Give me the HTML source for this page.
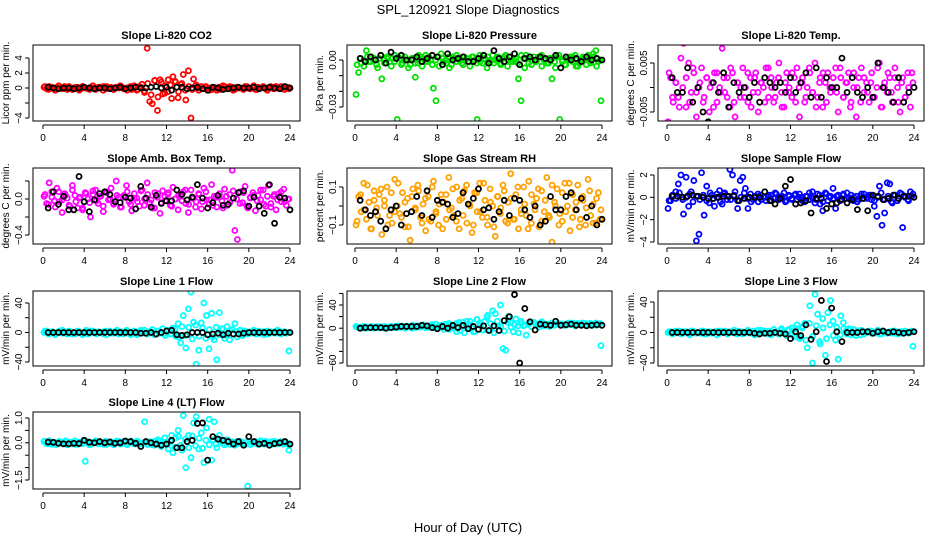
<!DOCTYPE html>
<html><head><meta charset="utf-8"><style>
body{margin:0;background:#fff}
svg text{font-family:"Liberation Sans",sans-serif}
</style></head><body>
<svg id="chart" width="936" height="540" xmlns="http://www.w3.org/2000/svg">
<rect width="936" height="540" fill="#fff"/>
<text x="468" y="14" text-anchor="middle" font-size="13">SPL_120921  Slope Diagnostics</text>
<text x="468" y="532" text-anchor="middle" font-size="13">Hour of Day (UTC)</text>
</svg>
<script>
const xTicks=[0,4,8,12,16,20,24];
const co2Col=[0.1,-0.1,0.2,0,-0.2,0.1,0,-0.1,0.2,-0.2,0.1,0,-0.1,0.1,-0.2,0.2,0,-0.1,0.1,0,-0.2,0.1,0,0.2,-0.1,0,0.1,-0.2,0.1,0,0.2,-0.1,0,0.1,-0.2,0.3,-0.3,0.2,0.5,-0.6,5.3,-1.8,-2.1,1.0,-3.0,1.1,-0.8,0.3,-0.5,0.4,1.5,0.8,-1.3,0.5,1.8,-1.6,2.3,-4.0,1.2,0.4,-0.3,0.2,-0.1,0.1,0,-0.2,0.1,-0.3,0.1,0,0.2,-0.1,0,0.1,-0.2,0.1,0,-0.1,0.2,0,-0.1,0.1,-0.2,0.1,0,0.2,-0.1,0,0.1,-0.1,0.2,0,-0.1,0.1,0,-0.1];
const co2Band=[0.2,-0.2,0.1,-0.3,0.3,0,-0.1,0.2,-0.2,0.1,-0.3,0.2,0,-0.2,0.3,-0.1,0.1,-0.3,0.2,0,-0.2,0.1,0.3,-0.1,-0.3,0.2,0,-0.2,0.1,-0.4,0.6,-0.9,1.0,-1.2,0.8,-0.7,1.1,-1.4,0.9,-0.5,0.6,-0.3,0.2,-0.2,0.3,0,-0.1,0.2,-0.3,0.1,0,-0.2,0.3,-0.1,0.2,-0.3,0.1,0,-0.2,0.2,-0.1,0.3,-0.2,0,0.1,-0.3,0.2,-0.1,0,0.2,-0.2,0.1];
const co2Blk=[0.1,0,-0.1,0,0,-0.1,0,0.1,0,-0.1,0,0,-0.1,0,0.1,-0.1,0,0.1,0,0,0.1,0.2,0,0.1,-0.3,0.1,0.1,-0.1,0,0.1,-0.1,-0.3,0.1,0,-0.2,-0.1,0,0.1,0,0,0.1,-0.1,0,0.1,0,-0.1,0.2,0];
const presCol=[-22,-8,-2,0,6,-1,2,1,-3,1,-12,0,2,-1,1,3,-38,1,-2,2,0,-3,1,-11,-2,2,1,3,-1,0,-18,-26,2,4,-1,0,2,-3,1,3,0,-2,2,1,-1,2,0,-38,3,-2,1,2,-1,3,0,2,-2,1,3,0,2,-1,1,-12,-26,1,3,-2,0,2,-1,2,3,0,-2,1,-12,-1,2,-38,0,-3,1,2,-1,3,-4,0,2,1,3,-2,4,6,-1,-26];
const presBand=[-3,1,-4,2,-1,0,-5,3,-2,1,-4,-1,2,-3,0,-5,1,-2,3,-4,-1,2,-3,0,-4,1,-2,-5,2,-1,0,-3,1,-4,2,-2,-1,3,-5,0,-2,1,-3,2,-4,-1,0,-2,3,-5,1,-3,-1,2,-4,0,-2,1,-5,3,-1,-3,0,2,-4,-2,1,-3,-1,2,-4,0];
const presBlk=[1,-1,2,0,3,-2,5,1,3,0,0,2,-1,1,3,2,-3,4,0,1,2,-1,-1,1,3,-2,6,1,-1,2,4,-3,1,2,0,2,1,0,3,-5,2,0,1,-1,2,0,1,0];
const tempCol=[-7,2,-3,1,-2,6,9,-4,5,-1,3,-6,0,4,-2,2,-5,1,3,-3,0,8,-1,2,-4,3,-6,1,-2,4,0,-3,2,-1,3,-5,1,0,4,-2,2,-3,1,5,-1,-4,3,0,-2,2,4,-6,1,-3,0,3,-1,5,-2,2,-4,1,3,-1,0,4,-5,2,-2,1,3,-3,0,-6,2,4,-1,1,-3,3,-2,0,5,-4,1,-1,2,-3,4,0,-5,2,-2,3,-4,1];
const tempBand=[3,-2,1,-4,0,2,-3,4,-1,1,-3,2,0,-4,3,-1,2,-2,4,-3,1,0,-2,3,-4,2,-1,1,-3,4,0,-2,2,-4,1,-1,3,-3,0,2,-2,4,-1,-4,1,3,-3,0,2,-1,4,-2,1,-4,3,0,-3,2,-1,1,-2,4,-4,0,3,-1,2,-3,1,-2,0,3];
const tempBlk=[2,-1,-1,4,-3,0,-5,-7,1,-1,3,-4,1,-1,0,-2,1,-3,2,1,0,1,-1,2,-1,1,3,-2,4,-2,2,0,0,6,-1,2,-1,-2,0,-2,5,0,-1,-3,2,-3,-1,0];
const ambCol=[3,-5,18,8,-2,12,-3,-15,6,1,-8,15,4,-10,2,-12,7,0,-20,5,10,-5,3,-14,8,-1,12,-6,20,2,-9,4,15,-3,-13,6,1,-8,10,0,18,-4,-10,7,2,-16,9,-2,5,-7,13,0,-12,4,8,-5,-15,10,1,-3,6,-11,12,-1,-6,16,3,-9,2,-2,11,-7,5,32,-35,-45,8,-4,14,-10,2,7,-13,4,-1,10,-8,15,-5,3,-12,6,-3,11,-7,0];
const ambBand=[5,-6,2,-9,8,-1,4,-7,10,-3,1,-10,6,-4,9,-2,3,-8,7,0,-5,4,-9,2,8,-6,1,-3,9,-7,5,-1,-10,6,-4,3,7,-8,0,4,-2,10,-6,1,-9,5,-3,8,-1,-7,2,6,-10,3,-4,9,0,-5,7,-8,1,4,-2,10,-6,3,-9,5,-1,8,-3,0];
const ambBlk=[-10,8,-6,3,-12,-12,25,-3,-14,-1,6,8,5,-3,-4,2,1,-11,14,1,-9,4,-5,-2,-2,10,5,-1,2,16,1,-10,-4,4,-7,-6,1,7,9,-8,2,-8,-16,16,-27,2,1,-12];
const rhCol=[-10,5,-3,12,-7,2,-12,8,-1,6,-15,3,10,-5,-9,14,0,-4,7,-11,4,-18,9,-2,11,-6,1,-13,5,-8,13,-3,-10,6,2,-7,15,-1,-5,10,-12,4,8,-9,1,-14,7,-3,12,-6,3,-10,9,0,-16,5,-4,11,-8,2,17,-7,6,-12,-2,10,-5,13,-9,1,4,-11,8,-3,15,-6,-19,2,9,-4,-8,12,0,-13,6,-2,11,-7,3,-10,14,-5,1,-9,7,-2];
const rhBand=[-8,6,-2,11,-12,3,-5,9,0,-10,7,-3,12,-6,2,-11,5,-1,8,-9,4,-7,10,-4,1,-12,6,-2,9,-8,3,-5,11,0,-10,7,-3,12,-6,2,-11,5,-1,8,-9,4,-7,10,-4,1,-12,6,-2,9,-8,3,-5,11,0,-10,7,-3,12,-6,2,-11,5,-1,8,-9,4,-7];
const rhBlk=[3,-2,-5,-3,-8,-12,-2,0,-10,-4,-3,5,-5,8,-6,3,2,1,-6,-4,7,1,4,9,-2,-1,-7,-3,3,-5,4,3,-2,-6,0,-10,-8,5,-2,-2,5,7,-2,4,-6,0,-10,-7];
const flowCol=[-10,-3,2,5,12,20,-15,18,-8,5,15,-39,-33,22,-16,10,-5,2,-8,3,6,-6,4,-2,25,20,5,-10,15,18,8,-10,3,-2,1,-4,2,0,-3,1,2,-1,3,-2,0,4,-3,1,-1,2,-2,3,0,-4,1,-2,5,-5,3,-6,-12,4,-3,1,8,-10,2,-2,3,-1,0,2,-3,1,-2,3,-1,0,2,-2,-8,-17,10,-25,-14,13,12,-5,2,-3,4,-27,1,-2,5,3];
const flowBand=[-3,2,-1,4,-2,0,3,-4,1,-2,2,-3,4,-1,0,-4,3,1,-2,2,-3,0,4,-1,-4,1,3,-2,0,2,-3,4,-1,1,-4,2,-2,3,0,-3,1,4,-1,-2,2,-4,3,0,-1,1,-3,2,4,-2,0,-4,1,3,-1,2,-3,0,4,-2,1,-4,2,-1,3,0,-3,1];
const flowBlk=[1,1,0,1,2,1,0,-1,-1,0,1,1,1,-3,-1,0,0,0,5,-3,-6,-1,10,16,-6,-5,-3,-14,-1,-1,-10,-6,-5,-2,-5,-2,-11,-1,-12,2,1,-2,-1,2,-1,1,1,0];
const l1Col=[0,2,-2,1,-1,0,2,-1,1,-2,1,0,-2,2,0,-1,1,-2,2,0,-1,1,0,-2,2,1,-1,0,2,-2,1,-1,3,0,-2,2,-3,1,-1,3,-2,1,4,-3,2,-1,5,-4,3,-2,6,-5,12,-14,23,-21,32,55,14,-43,-24,13,40,23,-22,26,-10,-37,27,5,-8,8,-10,4,12,-6,3,-4,2,-2,1,0,-2,2,-1,1,0,-2,1,0,2,-1,0,1,-1,-25];
const l1Band=[2,-2,1,-3,0,3,-1,2,-2,0,1,-3,3,-1,2,-2,0,1,-3,2,-1,3,0,-2,1,-3,2,-1,3,0,-2,1,-3,2,0,-1,3,-2,5,-6,8,-4,7,-9,10,-5,6,-8,4,-6,7,-3,5,-4,3,-2,1,-3,2,0,-1,3,-2,1,-3,2,0,-1,3,-2,1,0];
const l1Blk=[0,0,0,0,0,0,0,0,0,0,0,0,0,0,0,0,0,0,-1,-1,0,-2,0,2,3,-3,-4,-3,0,0,0,-3,-2,-1,-3,-1,-2,-2,-1,0,0,0,0,0,0,0,0,0];
const l2Col=[3,1,2,0,2,1,3,0,2,1,1,3,0,2,1,3,1,2,4,0,3,2,5,1,4,2,6,3,1,5,3,7,2,5,-2,6,8,1,4,-6,10,3,-8,12,6,0,-6,15,9,-3,12,22,-4,30,25,3,40,-35,-38,20,10,-6,16,-8,12,4,-12,8,3,10,6,2,11,4,7,3,9,5,8,6,7,5,8,6,9,4,8,7,6,8,7,8,6,9,7,-30];
const l2Band=[2,1,3,0,2,1,3,2,0,2,3,1,4,2,1,3,0,4,2,5,1,3,6,0,4,2,7,-2,5,8,-4,10,2,12,-6,15,5,-3,18,8,-8,12,3,-5,10,2,6,4,8,5,7,3,9,6,8,5,7,9,6,8,7,5,9,6,8,7,9,6,8,7,5,8];
const l2Blk=[0,1,1,1,1,0,1,2,3,3,3,3,5,4,1,-1,3,0,5,1,5,-1,3,-2,4,-4,4,-4,13,20,58,-60,34,11,-3,7,6,5,12,5,6,7,5,5,4,5,6,5];
const l3Col=[0,1,-1,2,0,-2,1,0,-1,2,1,-1,0,2,-2,1,0,-1,1,2,-1,0,2,-2,1,0,-1,2,1,-2,0,3,-1,2,0,-2,3,1,-1,2,-3,4,0,-2,5,1,-4,3,6,-5,10,-8,6,12,-20,35,-40,50,24,-15,18,-30,26,42,15,-10,-35,22,13,2,5,-3,4,-4,2,3,-2,1,2,-1,0,1,-2,2,0,-1,1,2,-1,0,1,-1,2,0,1,-18];
const l3Band=[1,-2,0,2,-1,1,-3,2,0,-1,2,-2,1,0,-3,2,1,-1,0,3,-2,1,-1,2,0,-3,3,-1,2,-2,1,0,-2,3,-1,4,-3,5,-6,8,-10,12,-5,9,-12,6,-8,10,-4,7,-3,5,-2,4,-1,2,-3,1,0,2,-1,3,-2,1,0,-1,2,-2,1,0,-1,2];
const l3Blk=[0,0,0,0,0,0,0,0,0,0,0,0,0,0,0,0,-1,-2,-1,-1,0,-1,-2,-8,1,-4,10,-9,1,42,-38,32,1,-12,0,0,0,1,1,-1,1,2,0,1,0,-1,0,1];
const l4Col=[5,-3,8,-6,2,-5,6,-2,4,-8,3,-4,7,-6,1,-3,-75,5,-7,2,8,-4,3,-6,6,-2,4,-8,2,5,-3,6,-5,1,7,-4,3,-6,-2,85,-5,4,-8,6,-3,8,-6,2,-4,5,-40,20,50,-10,110,-100,30,-60,80,105,-25,40,-80,60,95,-70,85,-20,30,10,-8,12,-5,4,-10,6,-3,2,-6,-175,4,-2,5,-6,3,-4,6,-2,4,-5,3,-3,5,-6,2,-30];
const l4Band=[6,-4,2,-7,4,-2,8,-5,1,-6,3,-3,7,-8,0,5,-4,2,-6,4,-1,7,-5,3,-8,2,-2,6,-3,1,-7,4,-10,12,-15,20,-25,30,-18,25,-30,15,-20,28,-12,18,-22,10,-8,12,-5,8,-3,5,-6,2,-4,6,-1,3,-7,4,-2,8,-5,1,-3,6,-4,2,0,-5];
const l4Blk=[3,2,-2,-4,-4,-2,-3,10,2,0,5,0,3,-2,0,7,5,-2,-15,5,0,-5,-10,-5,10,-20,-20,5,10,78,80,-70,25,15,10,5,-5,5,-10,25,5,-5,-2,-10,-3,0,5,-5];

const NS="http://www.w3.org/2000/svg";
const svg=document.getElementById('chart');
function mk(tag,attrs,parent){const e=document.createElementNS(NS,tag);for(const k in attrs)e.setAttribute(k,attrs[k]);(parent||svg).appendChild(e);return e;}
const cols=[{l:33,r:300,x0:43,x24:290},{l:347,r:612,x0:355,x24:602},{l:658,r:924,x0:667,x24:914}];
const rows=[{t:45,b:121},{t:168,b:244},{t:291,b:366},{t:412,b:489}];
const panels=[
 {id:'co2',title:'Slope Li-820 CO2',ylab:'Licor ppm per min.',c:0,r:0,col:'#ff0000',cv:co2Col,bd:co2Band,bv:co2Blk,sc:1,ya:[0,88,4,58],ticks:[-4,-2,0,2,4],labs:{'-4':'−4','0':'0','2':'2','4':'4'}},
 {id:'pressure',title:'Slope Li-820 Pressure',ylab:'kPa per min.',c:1,r:0,col:'#00e000',cv:presCol,bd:presBand,bv:presBlk,sc:0.001,ya:[0,60,-0.03,107],ticks:[-0.03,-0.02,-0.01,0],labs:{'-0.03':'−0.03','0':'0.00'}},
 {id:'li820-temp',title:'Slope Li-820 Temp.',ylab:'degrees C  per min.',c:2,r:0,col:'#ff00ff',cv:tempCol,bd:tempBand,bv:tempBlk,sc:0.001,ya:[0.005,63,-0.005,112],ticks:[-0.005,0,0.005],labs:{'-0.005':'−0.005','0.005':'0.005'}},
 {id:'amb-box-temp',title:'Slope Amb. Box Temp.',ylab:'degrees C per min.',c:0,r:1,col:'#ff00ff',cv:ambCol,bd:ambBand,bv:ambBlk,sc:0.01,ya:[0,199,-0.4,235],ticks:[-0.4,-0.2,0,0.2],labs:{'-0.4':'−0.4','0':'0.0'}},
 {id:'gas-stream-rh',title:'Slope Gas Stream RH',ylab:'percent per min.',c:1,r:1,col:'#ffa000',cv:rhCol,bd:rhBand,bv:rhBlk,sc:0.01,ya:[0.1,187,-0.1,225],ticks:[-0.1,0,0.1],labs:{'-0.1':'−0.1','0.1':'0.1'}},
 {id:'sample-flow',title:'Slope Sample Flow',ylab:'mV/min per min.',c:2,r:1,col:'#0000ff',cv:flowCol,bd:flowBand,bv:flowBlk,sc:0.1,ya:[2,175,-4,242],ticks:[-4,-2,0,2],labs:{'-4':'−4','-2':'−2','0':'0','2':'2'}},
 {id:'line1-flow',title:'Slope Line 1 Flow',ylab:'mV/min per min.',c:0,r:2,col:'#00ffff',cv:l1Col,bd:l1Band,bv:l1Blk,sc:1,ya:[40,303,-40,362],ticks:[-40,-20,0,20,40],labs:{'-40':'−40','0':'0','40':'40'}},
 {id:'line2-flow',title:'Slope Line 2 Flow',ylab:'mV/min per min.',c:1,r:2,col:'#00ffff',cv:l2Col,bd:l2Band,bv:l2Blk,sc:1,ya:[40,305,-60,363],ticks:[-60,-40,-20,0,20,40,60],labs:{'-60':'−60','0':'0','40':'40'}},
 {id:'line3-flow',title:'Slope Line 3 Flow',ylab:'mV/min per min.',c:2,r:2,col:'#00ffff',cv:l3Col,bd:l3Band,bv:l3Blk,sc:1,ya:[40,302,-40,363],ticks:[-40,-20,0,20,40],labs:{'-40':'−40','0':'0','40':'40'}},
 {id:'line4-flow',title:'Slope Line 4 (LT) Flow',ylab:'mV/min per min.',c:0,r:3,col:'#00ffff',cv:l4Col,bd:l4Band,bv:l4Blk,sc:0.01,ya:[1,418,-1.5,480],ticks:[-1.5,-1,-0.5,0,0.5,1],labs:{'-1.5':'−1.5','0':'0.0','1':'1.0'}}
];
panels.forEach(p=>{
 const C=cols[p.c],R=rows[p.r];
 const g=mk('g',{});
 
 
 const xs=h=>C.x0+h*(C.x24-C.x0)/24;
 const ys=v=>p.ya[1]+(v-p.ya[0])*(p.ya[3]-p.ya[1])/(p.ya[2]-p.ya[0]);
 const cg=mk('clipPath',{id:'clip-'+p.id},g);
 mk('rect',{x:C.l,y:R.t,width:C.r-C.l,height:R.b-R.t},cg);
 const pts=mk('g',{'clip-path':'url(#clip-'+p.id+')'},g);
 const nb=p.bd.length;
 p.bd.forEach((v,i)=>{
  const c=mk('circle',{cx:xs(0.2+i*23.6/(nb-1)),cy:ys(v*p.sc),r:2.5,fill:'none',stroke:p.col,'stroke-width':1.8},pts);
  
  
 });
 const n=p.cv.length;
 p.cv.forEach((v,i)=>{
  const c=mk('circle',{cx:xs(0.1+i*23.8/(n-1)),cy:ys(v*p.sc),r:2.5,fill:'none',stroke:p.col,'stroke-width':1.8},pts);
  
  
 });
 p.bv.forEach((v,i)=>{
  const c=mk('circle',{cx:xs(0.5+i*0.5),cy:ys(v*p.sc),r:2.5,fill:'none',stroke:'#000','stroke-width':1.8},pts);
  
  
 });
 const box=mk('rect',{x:C.l,y:R.t,width:C.r-C.l,height:R.b-R.t,fill:'none',stroke:'#000','stroke-width':1},g);
 
 
 const t=mk('text',{x:(C.l+C.r)/2,y:R.t-6,'text-anchor':'middle','font-size':11,'font-weight':'bold'},g);
 t.textContent=p.title;
 
 
 const yl=mk('text',{transform:`translate(${C.l-24},${(R.t+R.b)/2}) rotate(-90)`,'text-anchor':'middle','font-size':10},g);
 yl.textContent=p.ylab;
 
 
 mk('line',{x1:xs(0),x2:xs(24),y1:R.b+4,y2:R.b+4,stroke:'#000'},g);
 xTicks.forEach(h=>{
  mk('line',{x1:xs(h),x2:xs(h),y1:R.b+4,y2:R.b+8,stroke:'#000'},g);
  const tx=mk('text',{x:xs(h),y:R.b+20,'text-anchor':'middle','font-size':10},g);
  tx.textContent=h;
  
  
 });
 const tv=p.ticks.filter(v=>ys(v)>=R.t-1&&ys(v)<=R.b+1);
 mk('line',{x1:C.l-4,x2:C.l-4,y1:ys(tv[0]),y2:ys(tv[tv.length-1]),stroke:'#000'},g);
 tv.forEach(v=>{
  mk('line',{x1:C.l-8,x2:C.l-4,y1:ys(v),y2:ys(v),stroke:'#000'},g);
  const key=String(v);
  if(p.labs[key]!==undefined){
   const tl=mk('text',{transform:`translate(${C.l-11},${ys(v)}) rotate(-90)`,'text-anchor':'middle','font-size':10},g);
   tl.textContent=p.labs[key];
   
   
  }
 });
});
</script>
</body></html>
